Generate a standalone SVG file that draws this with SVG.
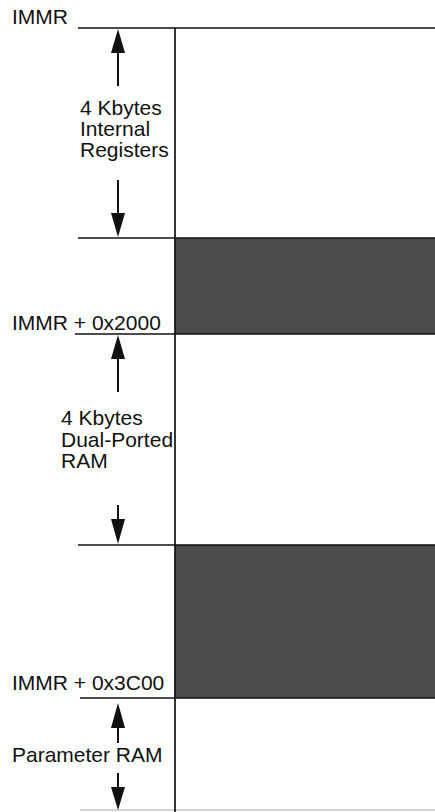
<svg xmlns="http://www.w3.org/2000/svg" width="435" height="812" viewBox="0 0 435 812">
<style>
text{font-family:"Liberation Sans",Arial,sans-serif;font-size:21px;fill:#111}
.ln{stroke:#111;stroke-width:1.7;fill:none}
.sh{stroke:#111;stroke-width:2;fill:none}
.hd{fill:#111}
.dk{fill:#4c4c4c}
</style>
<rect width="435" height="812" fill="#fff"/>
<g id="blocks">
<rect class="dk" x="175" y="238" width="260" height="96"/>
<rect class="dk" x="175" y="545" width="260" height="153"/>
</g>
<g id="lines">
<line class="ln" x1="78" y1="28" x2="435" y2="28"/>
<line class="ln" x1="78" y1="238" x2="435" y2="238"/>
<line class="ln" x1="75" y1="334" x2="435" y2="334"/>
<line class="ln" x1="78" y1="545" x2="435" y2="545"/>
<line class="ln" x1="80" y1="698" x2="435" y2="698"/>
<line x1="80" y1="810" x2="435" y2="810" stroke="#aaa" stroke-width="1.2"/>
<line class="ln" x1="175" y1="28" x2="175" y2="812"/>
</g>
<g id="connectors">
<line class="sh" x1="118" y1="50" x2="118" y2="86"/>
<polygon class="hd" points="118,29 111,53 125,53"/>
<line class="sh" x1="118" y1="180" x2="118" y2="216"/>
<polygon class="hd" points="118,237 111,213 125,213"/>
<line class="sh" x1="118" y1="356" x2="118" y2="392"/>
<polygon class="hd" points="118,335 111,359 125,359"/>
<line class="sh" x1="118" y1="505" x2="118" y2="522"/>
<polygon class="hd" points="118,544 111,519 125,519"/>
<line class="sh" x1="118" y1="725" x2="118" y2="743"/>
<polygon class="hd" points="118,703 111,728 125,728"/>
<line class="sh" x1="118" y1="773" x2="118" y2="790"/>
<polygon class="hd" points="118,810 111,787 125,787"/>
</g>
<g id="label-immr"><text x="12" y="24">IMMR</text></g>
<g id="label-regs">
<text x="80" y="115">4 Kbytes</text>
<text x="80" y="136">Internal</text>
<text x="80" y="157">Registers</text>
</g>
<g id="label-2000"><text x="12" y="330">IMMR + 0x2000</text></g>
<g id="label-dpram">
<text x="61" y="425">4 Kbytes</text>
<text x="61" y="447">Dual-Ported</text>
<text x="61" y="468">RAM</text>
</g>
<g id="label-3c00"><text x="12" y="690">IMMR + 0x3C00</text></g>
<g id="label-param"><text x="12" y="762">Parameter RAM</text></g>
</svg>
